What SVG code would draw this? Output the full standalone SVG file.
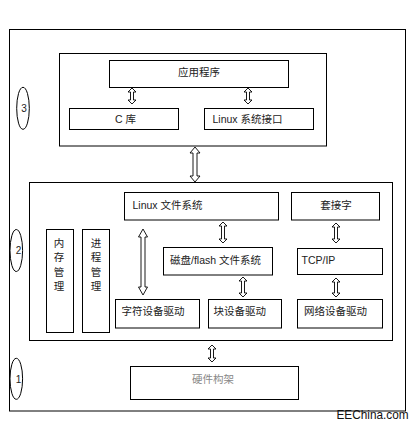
<svg xmlns="http://www.w3.org/2000/svg" width="415" height="428" viewBox="0 0 415 428">
<style>
.box{fill:#fff;stroke:#000;stroke-width:1}
.frame{fill:none;stroke:#000;stroke-width:1}
.arr{fill:#fff;stroke:#000;stroke-width:0.9;stroke-linejoin:miter}
text{font-family:"Liberation Sans","Noto Sans CJK SC",sans-serif;font-size:10.5px;fill:#222}
.c{text-anchor:middle}
.num{font-size:10px}
.hw{fill:#888}
.logo{font-size:13px;fill:#111}
</style>
<rect width="415" height="428" fill="#fff"/>
<rect class="frame" x="9.5" y="29.5" width="396" height="381.5"/>

<g id="layer3">
<rect class="box" x="59.5" y="53.5" width="267" height="92.5"/>
</g>
<g id="label3">
<ellipse class="frame" cx="23" cy="108.3" rx="6.3" ry="21"/>
<text class="num c" x="24" y="112">3</text>
</g>
<g id="app">
<rect class="box" x="109.5" y="60.5" width="179" height="27"/>
<text class="c" x="199" y="76">应用程序</text>
</g>
<g id="clib">
<rect class="box" x="69.5" y="108.5" width="109" height="21"/>
<text x="115" y="123">C 库</text>
</g>
<g id="syscall">
<rect class="box" x="204.5" y="108.5" width="109" height="21"/>
<text x="212.5" y="123">Linux 系统接口</text>
</g>

<g id="layer2">
<rect class="box" x="29.5" y="182.5" width="363" height="158"/>
</g>
<g id="label2">
<ellipse class="frame" cx="16.3" cy="250.5" rx="6.3" ry="21"/>
<text class="num c" x="18.5" y="254">2</text>
</g>
<g id="vfs">
<rect class="box" x="124.5" y="192.5" width="154" height="27.5"/>
<text x="132.5" y="209">Linux 文件系统</text>
</g>
<g id="socket">
<rect class="box" x="291.5" y="192.5" width="88" height="27.5"/>
<text class="c" x="336" y="209">套接字</text>
</g>
<g id="mm">
<rect class="box" x="46.5" y="229.5" width="27" height="103"/>
<text class="c" x="59" y="246.5">内</text>
<text class="c" x="59" y="261">存</text>
<text class="c" x="59" y="275.5">管</text>
<text class="c" x="59" y="290">理</text>
</g>
<g id="pm">
<rect class="box" x="82.5" y="229.5" width="27" height="103"/>
<text class="c" x="96" y="246.5">进</text>
<text class="c" x="96" y="261">程</text>
<text class="c" x="96" y="275.5">管</text>
<text class="c" x="96" y="290">理</text>
</g>
<g id="diskfs">
<rect class="box" x="163.5" y="247.5" width="109" height="27.5"/>
<text x="170" y="264">磁盘/flash 文件系统</text>
</g>
<g id="tcpip">
<rect class="box" x="297.5" y="248.5" width="85" height="26"/>
<text x="301.5" y="264">TCP/IP</text>
</g>
<g id="chardrv">
<rect class="box" x="115.5" y="299.5" width="84" height="28.5"/>
<text x="121.5" y="315">字符设备驱动</text>
</g>
<g id="blkdrv">
<rect class="box" x="208.5" y="299.5" width="73" height="28.5"/>
<text x="213.5" y="315">块设备驱动</text>
</g>
<g id="netdrv">
<rect class="box" x="297.5" y="299.5" width="85" height="28.5"/>
<text x="304" y="315">网络设备驱动</text>
</g>

<g id="label1">
<ellipse class="frame" cx="16.3" cy="378.8" rx="6.3" ry="20.5"/>
<text class="num c" x="18.5" y="382.5">1</text>
</g>
<g id="hardware">
<rect class="box" x="130.5" y="366.5" width="168" height="33"/>
<text class="c hw" x="213" y="382.5">硬件构架</text>
</g>

<g id="connectors">
<path class="arr" d="M132,88 L136,92 L133.5,92 L133.5,100 L136,100 L132,104 L128,100 L130.5,100 L130.5,92 L128,92 Z"/>
<path class="arr" d="M248,88 L252,92 L249.5,92 L249.5,100 L252,100 L248,104 L244,100 L246.5,100 L246.5,92 L244,92 Z"/>
<path class="arr" d="M195,147 L200,153 L197,153 L197,176 L200,176 L195,182 L190,176 L193,176 L193,153 L190,153 Z"/>
<path class="arr" d="M143,229 L147.5,237 L145,237 L145,287 L147.5,287 L143,295 L138.5,287 L141,287 L141,237 L138.5,237 Z"/>
<path class="arr" d="M223,222 L227,226 L224.5,226 L224.5,239 L227,239 L223,243 L219,239 L221.5,239 L221.5,226 L219,226 Z"/>
<path class="arr" d="M336,223 L340,227 L337.5,227 L337.5,239 L340,239 L336,243 L332,239 L334.5,239 L334.5,227 L332,227 Z"/>
<path class="arr" d="M336,278 L340,282 L337.5,282 L337.5,293 L340,293 L336,297 L332,293 L334.5,293 L334.5,282 L332,282 Z"/>
<path class="arr" d="M243,277 L247,281 L244.5,281 L244.5,293 L247,293 L243,297 L239,293 L241.5,293 L241.5,281 L239,281 Z"/>
<path class="arr" d="M212,345 L216,349 L213.5,349 L213.5,358 L216,358 L212,362 L208,358 L210.5,358 L210.5,349 L208,349 Z"/>
</g>

<text class="logo" x="336.5" y="418.5" textLength="72" lengthAdjust="spacingAndGlyphs">EEChina.com</text>
</svg>
